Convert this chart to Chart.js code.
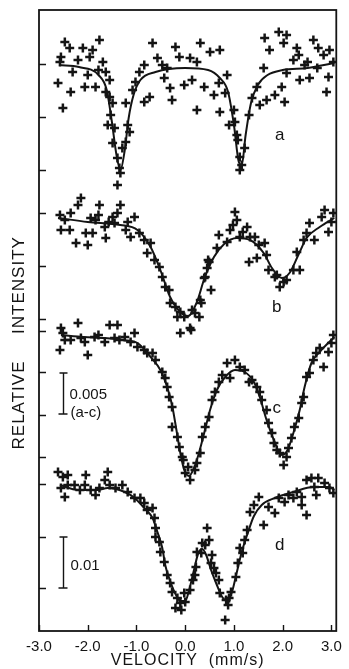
<!DOCTYPE html>
<html>
<head>
<meta charset="utf-8">
<script src="https://cdn.jsdelivr.net/npm/chart.js@4.4.1/dist/chart.umd.min.js"></script>
<style>
  html, body { margin: 0; padding: 0; background: #fff; }
  canvas { display: block; }
</style>
</head>
<body>
<canvas id="grafico" width="349" height="669"></canvas>
<script>
// Axis ticks (velocity in mm/s, intensity in stacked arbitrary units)
var velocityTicks = [-3, -2, -1, 0, 1, 2, 3];
var intensityTicks = [56.7, 51.4, 46.1, 41.8, 36.5, 31.2, 30.0, 25.9, 21.6, 17.4, 14.7, 9.4, 4.3];

// Spectrum a - measured points
var velA = [-2.47, -2.37, -2.55, -2.57, -2.61, -2.51, -2.35, -2.31, -2.20, -2.10, -2.06, -2.00, -1.96, -1.90, -1.76, -1.84, -1.69, -1.63, -1.63, -1.55,
  -1.49, -1.59, -1.53, -1.45, -1.49, -1.39, -1.35, -1.33, -1.39, -1.22, -1.18, -1.14, -1.22, -1.29, -1.08, -1.02, -0.94, -0.84, -0.73, -0.84,
  -0.67, -0.57, -0.47, -0.43, -0.31, -0.27, -0.20, -0.12, -0.02, -0.37, 0.31, 0.51, 0.71, 0.10, 0.24, 0.14, 0.39, 0.59, 0.69, 0.86,
  0.24, 0.71, 0.82, 0.90, 1.02, 1.06, 1.00, 1.12, 1.12, 1.22, 1.31, 1.37, 1.47, 1.53, 1.67, 1.84, 1.98, 2.04, 1.61, 1.73,
  1.63, 1.92, 2.08, 2.02, 2.29, 2.33, 2.22, 2.45, 2.63, 2.73, 2.84, 2.96, 2.55, 2.90, 2.94, 2.35, 2.08, 2.51, 2.71, 3.04,
  1.08, 1.16, -1.55, -1.78];
var intA = [58.9, 58.3, 57.4, 56.9, 54.8, 52.3, 53.9, 55.9, 57.1, 58.3, 54.4, 55.6, 57.4, 58.1, 59.1, 54.4, 56.9, 55.9, 53.9, 53.4,
  52.8, 50.6, 51.6, 50.3, 48.8, 47.3, 46.3, 45.8, 44.6, 52.8, 50.6, 49.9, 48.9, 48.3, 54.1, 54.9, 55.9, 56.6, 53.4, 52.9,
  58.8, 57.3, 56.6, 55.3, 54.3, 53.1, 58.4, 57.4, 54.6, 56.3, 58.8, 57.9, 58.1, 57.3, 56.9, 55.1, 54.4, 53.6, 54.8, 55.6,
  52.1, 51.9, 53.8, 50.6, 50.9, 49.6, 52.1, 47.4, 46.1, 48.3, 51.6, 53.3, 54.4, 52.6, 53.1, 53.6, 54.4, 52.9, 56.3, 58.1,
  59.3, 59.9, 59.6, 58.8, 58.3, 57.6, 57.1, 56.6, 59.1, 58.3, 57.6, 58.1, 55.3, 53.9, 55.4, 55.1, 55.8, 56.9, 56.3, 56.9,
  49.1, 46.6, 55.1, 56.1];
// Spectrum a - fitted curve
var fitVelA = [-2.59, -2.18, -1.78, -1.61, -1.51, -1.41, -1.33, -1.24, -1.16, -1.06, -0.92, -0.61, 0.00, 0.47, 0.71, 0.88, 1.00, 1.10, 1.16, 1.24,
  1.35, 1.49, 1.69, 2.00, 2.51, 3.06];
var fitIntA = [56.6, 56.4, 55.6, 54.1, 51.1, 47.6, 46.1, 48.1, 51.3, 53.6, 55.1, 55.9, 56.3, 56.1, 55.3, 53.9, 50.6, 46.9, 46.6, 49.6,
  52.8, 54.6, 55.6, 56.1, 56.3, 56.8];

// Spectrum b
var velB = [-2.14, -2.20, -1.76, -1.33, -1.39, -1.04, -2.57, -2.35, -2.55, -2.37, -2.04, -1.90, -2.24, -2.00, -1.63, -1.65, -1.45, -1.22, -1.12, -0.94,
  -0.84, -0.71, -0.78, -0.63, -0.53, -0.47, -0.41, -0.33, -0.31, -0.20, -0.10, -0.02, -0.16, -1.94, -1.84, -1.49, -1.18, -0.10, 0.12, 0.20,
  0.33, 0.53, 0.47, 0.41, 0.10, 0.14, 0.29, 0.31, 0.39, 0.49, 0.45, 0.65, 0.69, 0.86, 0.92, 1.02, 1.06, 1.12, 1.27, 1.33,
  1.43, 1.51, 1.63, 1.31, 1.47, 1.67, 1.71, 1.84, 1.94, 2.08, 2.22, 2.35, 2.29, 2.43, 2.49, 2.55, 2.65, 2.80, 2.86, 2.94,
  3.00, 3.04, 1.88, 2.02, 0.98, 1.18, -2.47, -1.57, -1.78];
var intB = [43.3, 42.6, 42.6, 42.6, 41.8, 41.4, 41.6, 41.8, 40.1, 40.1, 39.8, 39.8, 38.8, 38.6, 39.3, 40.4, 40.8, 40.1, 39.4, 39.8,
  39.1, 38.8, 37.8, 37.1, 36.4, 35.4, 34.4, 34.1, 32.8, 32.4, 31.9, 31.4, 31.4, 41.3, 41.1, 41.4, 40.9, 29.8, 30.1, 31.8,
  32.8, 34.1, 37.1, 35.4, 30.3, 32.1, 31.4, 33.1, 35.3, 36.9, 36.3, 38.3, 39.6, 38.9, 40.1, 41.9, 41.1, 39.4, 40.4, 39.4,
  39.4, 38.6, 38.8, 36.9, 37.3, 37.6, 36.1, 35.4, 34.4, 35.1, 36.1, 36.1, 37.9, 39.1, 39.8, 40.8, 39.1, 41.4, 42.1, 39.9,
  40.9, 41.8, 35.6, 34.9, 40.6, 39.9, 41.1, 40.9, 41.6];
var fitVelB = [-2.61, -2.00, -1.33, -0.98, -0.71, -0.51, -0.31, -0.10, 0.06, 0.24, 0.39, 0.59, 0.80, 1.06, 1.33, 1.61, 1.78, 1.98, 2.14, 2.33,
  2.49, 2.76, 3.06];
var fitIntB = [41.3, 40.9, 40.6, 40.1, 38.4, 36.1, 33.4, 31.9, 31.5, 32.9, 35.2, 37.4, 38.7, 39.3, 39.1, 37.8, 36.3, 35.3, 35.8, 37.7,
  39.3, 40.4, 41.3];

// Spectrum c
var velC = [-2.55, -2.51, -2.20, -1.55, -1.39, -2.57, -2.00, -2.47, -2.35, -2.14, -1.86, -1.65, -1.45, -1.24, -1.04, -1.12, -0.98, -0.84, -0.78, -0.67,
  -0.61, -0.47, -0.41, -0.37, -0.33, -0.27, -0.27, -0.16, -0.12, -0.06, 0.00, 0.10, 0.06, -0.04, 0.20, 0.24, 0.31, 0.35, 0.41, 0.49,
  0.55, 0.61, 0.69, 0.76, 0.86, 0.92, 1.02, 1.12, 1.22, 1.31, 1.37, 1.47, 1.53, 1.57, 1.67, 1.71, 1.78, 1.82, 1.88, 1.94,
  2.02, 2.08, 2.12, 2.18, 2.24, 2.33, 2.39, 2.43, 2.49, 2.55, 2.63, 2.69, 2.76, 2.84, 2.94, 3.00, 3.04, -1.78, -2.06, -1.35];
var intC = [30.3, 29.8, 30.8, 30.6, 30.6, 28.1, 27.6, 29.1, 29.1, 29.3, 29.4, 28.9, 29.3, 29.4, 29.8, 28.9, 28.4, 28.1, 27.8, 27.8,
  27.1, 25.9, 25.3, 24.4, 23.4, 22.4, 20.4, 19.4, 18.4, 17.4, 15.8, 15.1, 16.4, 17.1, 16.1, 16.8, 17.8, 19.4, 20.4, 21.4,
  23.1, 23.9, 24.9, 25.6, 26.8, 25.3, 27.1, 26.4, 26.1, 24.9, 25.1, 24.4, 23.9, 23.1, 22.1, 20.8, 19.8, 18.8, 18.1, 17.8,
  16.6, 17.4, 18.3, 19.3, 20.4, 21.3, 22.8, 23.4, 25.4, 25.8, 27.1, 27.8, 28.3, 26.4, 27.9, 28.8, 29.6, 29.6, 28.9, 29.1];
var fitVelC = [-2.55, -2.08, -1.65, -1.27, -0.98, -0.71, -0.51, -0.37, -0.27, -0.18, -0.10, -0.02, 0.08, 0.18, 0.27, 0.39, 0.51, 0.65, 0.82, 1.02,
  1.22, 1.41, 1.53, 1.67, 1.82, 1.98, 2.10, 2.22, 2.35, 2.45, 2.59, 2.76, 3.06];
var fitIntC = [29.6, 29.4, 29.3, 29.1, 28.8, 27.4, 26.1, 24.4, 22.6, 20.1, 17.8, 16.1, 15.5, 16.3, 17.6, 19.8, 22.1, 24.1, 25.4, 26.1,
  25.9, 24.9, 23.4, 21.1, 19.1, 17.6, 18.1, 19.8, 22.1, 24.4, 26.8, 27.9, 29.4];

// Spectrum d
var velD = [-2.61, -2.51, -2.41, -2.04, -1.59, -1.65, -2.55, -2.47, -2.41, -2.27, -2.16, -2.06, -1.94, -1.84, -1.76, -1.55, -1.43, -1.29, -1.18, -1.04,
  -0.92, -0.84, -0.78, -0.67, -0.63, -0.61, -0.61, -0.53, -0.51, -0.43, -0.37, -0.31, -0.27, -0.16, -0.20, -0.10, -0.02, -0.08, 0.00, 0.10,
  0.16, 0.22, 0.33, 0.41, 0.35, 0.45, 0.49, 0.24, 0.20, 0.53, 0.55, 0.59, 0.63, 0.69, 0.71, 0.84, 0.88, 0.82, 0.90, 0.94,
  1.04, 1.08, 1.12, 1.18, 1.22, 1.27, 1.33, 1.41, 1.51, 1.61, 1.71, 1.84, 1.92, 2.04, 2.12, 2.22, 2.39, 2.39, 2.49, 2.29,
  2.49, 2.59, 2.73, 2.65, 2.86, 2.96, 3.04, 2.69];
var intD = [15.9, 15.4, 15.6, 15.6, 15.9, 15.1, 14.3, 13.4, 14.6, 14.6, 14.1, 14.6, 14.1, 13.6, 14.3, 14.6, 14.3, 14.6, 13.9, 13.3,
  13.3, 12.8, 12.1, 12.3, 11.3, 10.3, 9.4, 8.9, 7.9, 6.9, 5.6, 4.8, 3.9, 3.3, 2.3, 2.8, 3.8, 2.1, 2.9, 4.1,
  5.1, 6.4, 7.8, 8.6, 8.8, 10.3, 9.1, 7.9, 5.6, 6.8, 7.6, 6.3, 5.8, 5.1, 3.8, 3.1, 2.6, 1.1, 3.3, 3.9,
  5.4, 6.8, 8.3, 7.8, 9.1, 10.1, 11.9, 12.6, 13.4, 10.6, 12.4, 11.8, 13.3, 12.9, 13.6, 13.3, 13.4, 12.6, 11.6, 13.9,
  15.1, 15.3, 15.3, 14.4, 14.8, 14.3, 13.8, 13.6];
var fitVelD = [-2.57, -2.20, -1.80, -1.59, -1.24, -1.04, -0.84, -0.67, -0.57, -0.47, -0.41, -0.33, -0.22, -0.10, 0.00, 0.08, 0.18, 0.27, 0.35, 0.43,
  0.53, 0.65, 0.76, 0.86, 0.96, 1.06, 1.16, 1.27, 1.41, 1.57, 1.84, 2.22, 2.63, 2.96, 3.06];
var fitIntD = [14.6, 14.1, 14.1, 14.3, 13.9, 13.3, 12.3, 11.3, 9.9, 8.3, 6.6, 5.3, 3.9, 3.0, 3.0, 4.1, 6.1, 7.8, 8.2, 7.6,
  6.1, 4.6, 3.4, 3.0, 3.9, 5.9, 7.9, 9.6, 11.5, 12.6, 13.3, 13.9, 14.4, 14.4, 14.1];

// Spectrum letters and their positions on the axes
var spectrumLabels = ['a', 'b', 'c', 'd'];
var labelVel = [1.94, 1.88, 1.88, 1.94];
var labelInt = [49.6, 32.4, 22.3, 8.6];

var corTinta = '#141414';

// Joins two arrays into {x, y} points
function juntarPontos(xs, ys) {
    return xs.map(function(x, i) {
        return { x: x, y: ys[i] };
    });
}

function datasetCruzes(xs, ys) {
    return {
        data: juntarPontos(xs, ys),
        showLine: false,
        pointStyle: 'cross',
        pointRadius: 4.5,
        pointBorderWidth: 2.5,
        pointBorderColor: corTinta,
        pointBackgroundColor: corTinta
    };
}

function datasetAjuste(xs, ys) {
    return {
        data: juntarPontos(xs, ys),
        showLine: true,
        pointRadius: 0,
        borderColor: corTinta,
        borderWidth: 2,
        cubicInterpolationMode: 'monotone',
        fill: false
    };
}

// Draws frame, inner ticks, scale bars, letters and axis titles
var extras = {
    id: 'extras',
    beforeDraw: function(chart) {
        var ctx = chart.ctx;
        ctx.save();
        ctx.fillStyle = '#fff';
        ctx.fillRect(0, 0, chart.width, chart.height);
        ctx.restore();
    },
    afterDraw: function(chart) {
        var ctx = chart.ctx;
        var area = chart.chartArea;
        var xs = chart.scales.x;
        var ys = chart.scales.y;
        ctx.save();
        ctx.strokeStyle = corTinta;
        ctx.fillStyle = corTinta;
        ctx.lineWidth = 1.8;
        ctx.strokeRect(area.left, area.top, area.right - area.left, area.bottom - area.top);

        ctx.lineWidth = 1.4;
        ctx.beginPath();
        intensityTicks.forEach(function(v) {
            var py = Math.round(ys.getPixelForValue(v)) + 0.5;
            ctx.moveTo(area.left, py);
            ctx.lineTo(area.left + 7, py);
        });
        velocityTicks.forEach(function(v) {
            var px = Math.round(xs.getPixelForValue(v)) + 0.5;
            ctx.moveTo(px, area.bottom);
            ctx.lineTo(px, area.bottom - 6);
        });
        ctx.stroke();

        // scale bars
        var barX = Math.round(xs.getPixelForValue(-2.51)) + 0.5;
        function barra(topo, base) {
            var y1 = ys.getPixelForValue(topo), y2 = ys.getPixelForValue(base);
            ctx.beginPath();
            ctx.moveTo(barX, y1); ctx.lineTo(barX, y2);
            ctx.moveTo(barX - 4, y1); ctx.lineTo(barX + 4, y1);
            ctx.moveTo(barX - 5, y2); ctx.lineTo(barX + 4, y2);
            ctx.stroke();
        }
        barra(25.8, 21.7);
        barra(9.4, 4.3);
        ctx.font = '15px "Liberation Sans", sans-serif';
        ctx.textAlign = 'left';
        ctx.textBaseline = 'middle';
        ctx.fillText('0.005', barX + 6, ys.getPixelForValue(23.6));
        ctx.fillText('(a-c)', barX + 7, ys.getPixelForValue(21.8));
        ctx.fillText('0.01', barX + 7, ys.getPixelForValue(6.5));

        // spectrum letters
        ctx.font = '17px "Liberation Sans", sans-serif';
        ctx.textAlign = 'center';
        spectrumLabels.forEach(function(t, i) {
            ctx.fillText(t, xs.getPixelForValue(labelVel[i]), ys.getPixelForValue(labelInt[i]));
        });

        // axis titles
        ctx.font = '16px "Liberation Sans", sans-serif';
        ctx.letterSpacing = '1px';
        ctx.fillText('VELOCITY  (mm/s)', (area.left + area.right) / 2, chart.height - 8);
        ctx.font = '17px "Liberation Sans", sans-serif';
        ctx.translate(19, 0);
        ctx.rotate(-Math.PI / 2);
        ctx.fillText('RELATIVE', -405, 0);
        ctx.fillText('INTENSITY', -285, 0);
        ctx.restore();
    }
};

var canvas = document.getElementById('grafico');
var meuGrafico = new Chart(canvas.getContext('2d'), {
    type: 'scatter',
    data: {
        datasets: [
            datasetCruzes(velA, intA), datasetAjuste(fitVelA, fitIntA),
            datasetCruzes(velB, intB), datasetAjuste(fitVelB, fitIntB),
            datasetCruzes(velC, intC), datasetAjuste(fitVelC, fitIntC),
            datasetCruzes(velD, intD), datasetAjuste(fitVelD, fitIntD)
        ]
    },
    options: {
        responsive: false,
        animation: false,
        layout: { padding: { top: 10, right: 10, left: 0, bottom: 0 } },
        plugins: { legend: { display: false }, tooltip: { enabled: false } },
        scales: {
            x: {
                type: 'linear',
                min: -3.0,
                max: 3.1,
                afterBuildTicks: function(scale) {
                    scale.ticks = velocityTicks.map(function(v) { return { value: v }; });
                },
                afterFit: function(scale) { scale.height = 38; },
                grid: { display: false, drawTicks: false },
                border: { display: false },
                ticks: {
                    color: corTinta,
                    padding: 7,
                    autoSkip: false,
                    maxRotation: 0,
                    font: { family: '"Liberation Sans", sans-serif', size: 15 },
                    callback: function(v) { return v.toFixed(1); }
                }
            },
            y: {
                type: 'linear',
                min: 0,
                max: 62.1,
                afterFit: function(scale) { scale.width = 39; },
                grid: { display: false, drawTicks: false },
                border: { display: false },
                ticks: { display: false }
            }
        }
    },
    plugins: [extras]
});
</script>
</body>
</html>
